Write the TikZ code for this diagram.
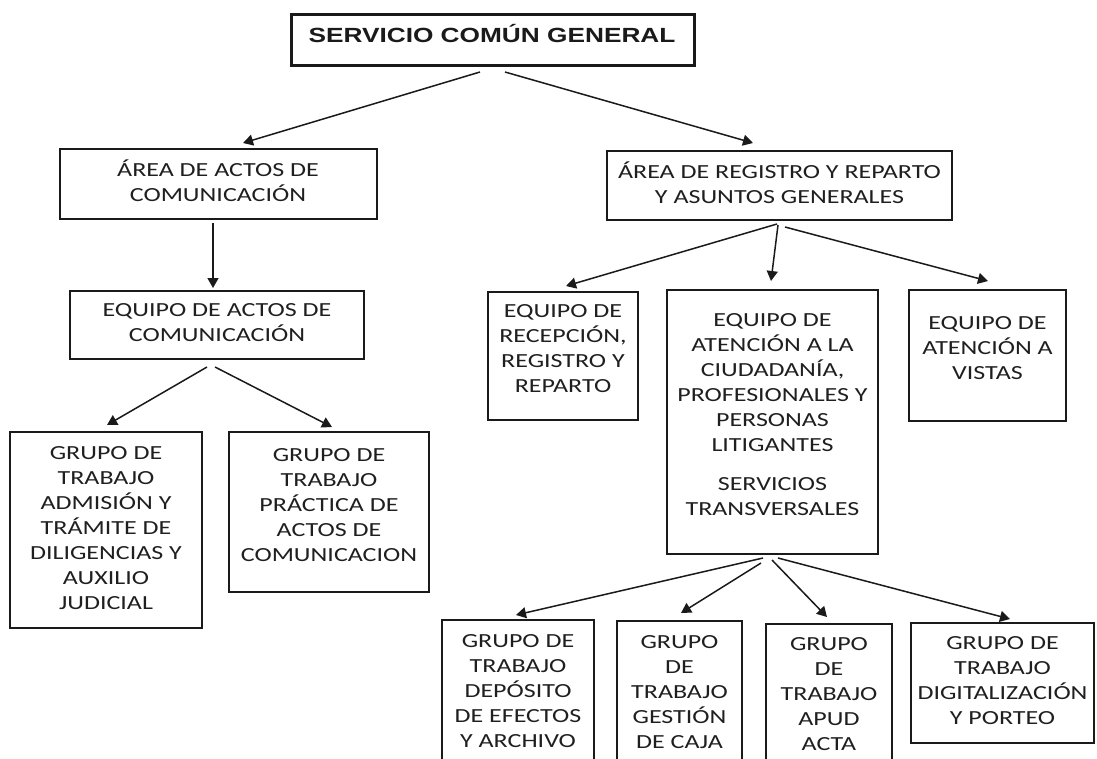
\documentclass[tikz,border=0pt]{standalone}
\usepackage{fontspec}
\setmainfont{Carlito}[FakeStretch=1.3]
\newfontfamily\titlefont{Liberation Sans}[FakeStretch=1.28]
\usepackage{tikz}
\usetikzlibrary{calc,arrows.meta}
\definecolor{ink}{HTML}{1A1A1A}
\definecolor{txt}{HTML}{1F1F1F}
\tikzset{
  boxa/.style={draw=ink, line width=1.5pt, inner sep=0pt, outer sep=0pt},
  boxb/.style={draw=ink, line width=2.5pt, inner sep=0pt, outer sep=0pt},
  boxc/.style={draw=ink, line width=3pt, inner sep=0pt, outer sep=0pt},
  lab/.style={text=txt, align=center, inner sep=0pt, font=\fontsize{20}{25}\selectfont},
  ttl/.style={text=ink, inner sep=0pt, font=\titlefont\bfseries\fontsize{20.5}{24}\selectfont},
  arr/.style={draw=ink, line width=1.5pt, -{Triangle[length=10pt,width=11pt]}},
}
\begin{document}
\begin{tikzpicture}[x=1pt, y=-1pt]
  \useasboundingbox (0,0) rectangle (1097,758);
  \fill[white] (0,0) rectangle (1097,758);
  \clip (0,0) rectangle (1097,758);

  % boxes
  \node[boxc, minimum width=403pt, minimum height=51pt]  (srv)   at (492.5,39.5) {};
  \node[boxb, minimum width=317pt, minimum height=70pt]  (aac)   at (218.5,184)  {};
  \node[boxa, minimum width=294pt, minimum height=68pt]  (eac)   at (217,325)    {};
  \node[boxa, minimum width=192pt, minimum height=196pt] (gadm)  at (106,530)    {};
  \node[boxa, minimum width=200pt, minimum height=160pt] (gprac) at (329,512)    {};
  \node[boxb, minimum width=345pt, minimum height=69pt]  (arr)   at (779.5,185.5) {};
  \node[boxa, minimum width=150pt, minimum height=128pt] (erec)  at (563,356)    {};
  \node[boxa, minimum width=211pt, minimum height=264pt] (eciu)  at (772.5,422)  {};
  \node[boxa, minimum width=157pt, minimum height=131pt] (evis)  at (987.5,355.5) {};
  \node[boxa, minimum width=152pt, minimum height=170pt] (gdep)  at (518,705)    {};
  \node[boxa, minimum width=125pt, minimum height=170pt] (gcaja) at (679.5,706)  {};
  \node[boxa, minimum width=126pt, minimum height=170pt] (gapud) at (829,709)    {};
  \node[boxa, minimum width=183pt, minimum height=120pt] (gdig)  at (1002.5,683) {};

  % texts
  \node[ttl] (srv-t)   at (492,34)      {SERVICIO COMÚN GENERAL};
  \node[lab] (aac-t)   at (218,181)     {ÁREA DE ACTOS DE\\COMUNICACIÓN};
  \node[lab] (eac-t)   at (217,322.5)   {EQUIPO DE ACTOS DE\\COMUNICACIÓN};
  \node[lab] (gadm-t)  at (106,528)     {GRUPO DE\\TRABAJO\\ADMISIÓN Y\\TRÁMITE DE\\DILIGENCIAS Y\\AUXILIO\\JUDICIAL};
  \node[lab] (gprac-t) at (329,505)     {GRUPO DE\\TRABAJO\\PRÁCTICA DE\\ACTOS DE\\COMUNICACION};
  \node[lab] (arr-t)   at (779.5,183)   {ÁREA DE REGISTRO Y REPARTO\\Y ASUNTOS GENERALES};
  \node[lab] (erec-t)  at (563,349)     {EQUIPO DE\\RECEPCIÓN,\\REGISTRO Y\\REPARTO};
  \node[lab] (eciu-t)  at (772.5,415)   {EQUIPO DE\\ATENCIÓN A LA\\CIUDADANÍA,\\PROFESIONALES Y\\PERSONAS\\LITIGANTES\\[14pt]SERVICIOS\\TRANSVERSALES};
  \node[lab] (evis-t)  at (987.5,348)   {EQUIPO DE\\ATENCIÓN A\\VISTAS};
  \node[lab] (gdep-t)  at (518,691)     {GRUPO DE\\TRABAJO\\DEPÓSITO\\DE EFECTOS\\Y ARCHIVO};
  \node[lab] (gcaja-t) at (679.5,692.5) {GRUPO\\DE\\TRABAJO\\GESTIÓN\\DE CAJA};
  \node[lab] (gapud-t) at (829,694.5)   {GRUPO\\DE\\TRABAJO\\APUD\\ACTA};
  \node[lab] (gdig-t)  at (1002.5,680.5) {GRUPO DE\\TRABAJO\\DIGITALIZACIÓN\\Y PORTEO};

  % arrows
  \draw[arr] ($(srv.south)+(-12.5,7)$) -- ($(aac.north)+(24.5,-6)$);
  \draw[arr] ($(srv.south)+(12.5,7)$)  -- ($(arr.north)+(-26.5,-8)$);
  \draw[arr] ($(aac.south)+(-5.5,4)$)  -- ($(eac.north)+(-4,-3)$);
  \draw[arr] ($(eac.south)+(-10,8)$)   -- ($(gadm.north)+(1,-7)$);
  \draw[arr] ($(eac.south)+(-2,8)$)    -- ($(gprac.north)+(3,-5)$);
  \draw[arr] ($(arr.south)+(-2.5,4)$)  -- ($(erec.north)+(3,-6)$);
  \draw[arr] ($(arr.south)+(-1.5,5)$)  -- ($(eciu.north)+(-1.5,-9)$);
  \draw[arr] ($(arr.south)+(5.5,7)$)   -- ($(evis.north)+(0.5,-9)$);
  \draw[arr] ($(eciu.south)+(-9.5,4)$) -- ($(gdep.north)+(-2,-5)$);
  \draw[arr] ($(eciu.south)+(-11.5,9)$) -- ($(gcaja.north)+(1.5,-8)$);
  \draw[arr] ($(eciu.south)+(-0.5,6)$) -- ($(gapud.north)+(-2,-7)$);
  \draw[arr] ($(eciu.south)+(5.5,4)$)  -- ($(gdig.north)+(7.5,-4)$);
\end{tikzpicture}
\end{document}
